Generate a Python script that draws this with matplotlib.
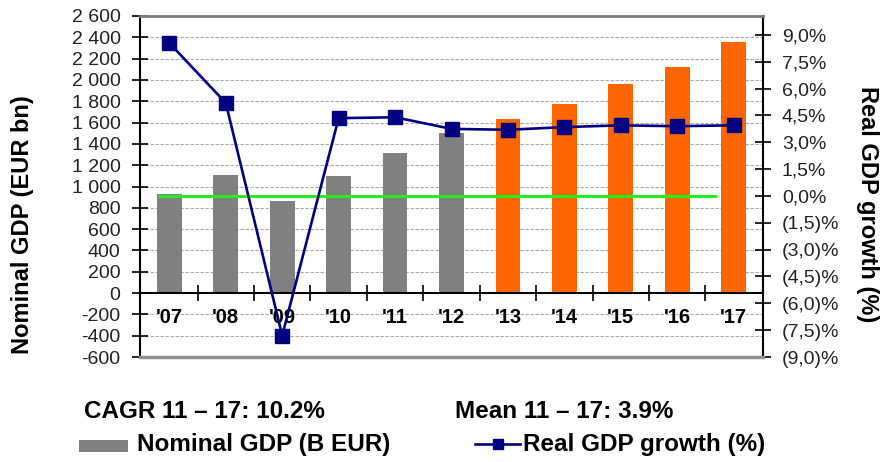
import matplotlib
matplotlib.use("Agg")
import matplotlib.pyplot as plt
from matplotlib.ticker import FuncFormatter, FixedLocator
from matplotlib.patches import Rectangle
from matplotlib.lines import Line2D

plt.rcParams['font.family'] = ['Liberation Sans', 'DejaVu Sans']

# ---- data ----
years = ["'07", "'08", "'09", "'10", "'11", "'12", "'13", "'14", "'15", "'16", "'17"]
nominal_gdp = [930, 1110, 860, 1100, 1315, 1505, 1630, 1770, 1965, 2125, 2360]
is_forecast = [False, False, False, False, False, False, True, True, True, True, True]
real_growth = [8.55, 5.2, -7.8, 4.35, 4.4, 3.75, 3.7, 3.85, 3.95, 3.9, 3.95]
left_ticks = list(range(-600, 2601, 200))
right_ticks = [-9.0, -7.5, -6.0, -4.5, -3.0, -1.5, 0.0, 1.5, 3.0, 4.5, 6.0, 7.5, 9.0]
cagr_text = "CAGR 11 \u2013 17: 10.2%"
mean_text = "Mean 11 \u2013 17: 3.9%"
legend_bar = "Nominal GDP (B EUR)"
legend_line = "Real GDP growth (%)"
ylabel_left = "Nominal GDP (EUR bn)"
ylabel_right = "Real GDP growth (%)"

GRAY = '#808080'
ORANGE = '#FF6600'
NAVY = '#000080'
GREEN = '#22EE22'

W, H = 880, 462
fig = plt.figure(figsize=(W / 100, H / 100), dpi=100)
ax1 = fig.add_axes([140 / W, 1 - 357 / H, (763 - 140) / W, (357 - 16) / H])
ax2 = ax1.twinx()

x = list(range(len(years)))
colors = [ORANGE if f else GRAY for f in is_forecast]
ax1.bar(x, nominal_gdp, width=0.44, color=colors, zorder=3)

ax1.set_xlim(-0.52, len(years) - 1 + 0.52)
ax1.set_ylim(-600, 2600)
ax1.yaxis.set_major_locator(FixedLocator(left_ticks))
ax1.yaxis.set_major_formatter(FuncFormatter(lambda v, p: f"{int(round(v)):,}".replace(",", " ")))

# gridlines
for v in left_ticks:
    if v not in (0, -600, 2600):
        ax1.axhline(v, color='#a8a8a8', lw=0.8, ls=(0, (3, 1.5)), zorder=1)

# x axis at zero
ax1.spines['bottom'].set_position(('data', 0))
ax1.spines['bottom'].set_color('black')
ax1.spines['bottom'].set_linewidth(1.5)
ax1.spines['bottom'].set_zorder(4)
ax1.spines['top'].set_visible(False)
ax1.spines['right'].set_visible(False)
ax1.spines['left'].set_color('black')
ax1.spines['left'].set_linewidth(1.5)

ax1.set_xticks(x)
ax1.set_xticklabels(years, fontsize=14.5, fontweight='bold')
ax1.set_xticks([i + 0.5 for i in x[:-1]], minor=True)
ax1.tick_params(axis='x', which='major', length=0, pad=11)
ax1.tick_params(axis='x', which='minor', direction='inout', length=11, width=1.2, color='black')
ax1.tick_params(axis='y', direction='inout', length=12, width=1.2, pad=8, labelsize=14,
                labelcolor='#222222')

# right axis
ax2.set_ylim(-9.0, 10.06)
ax2.yaxis.set_major_locator(FixedLocator(right_ticks))


def pct_fmt(v, p):
    if v < -1e-9:
        return f"({-v:.1f})%".replace('.', ',')
    return f"{abs(v):.1f}%".replace('.', ',')


ax2.yaxis.set_major_formatter(FuncFormatter(pct_fmt))
ax2.tick_params(axis='y', direction='inout', length=11, width=1.2, pad=8, labelsize=14,
                labelcolor='#222222')
ax2.spines['left'].set_visible(False)
ax2.spines['right'].set_color('black')
ax2.spines['right'].set_linewidth(1.5)
ax2.spines['top'].set_color('#7a7a7a')
ax2.spines['top'].set_linewidth(2)
ax2.spines['bottom'].set_color('#909090')
ax2.spines['bottom'].set_linewidth(2.5)

ax2.hlines(0, -0.2, 9.7, color=GREEN, lw=2.2, zorder=2)
ax2.plot(x, real_growth, color=NAVY, lw=1.9, marker='s', markersize=10,
         markerfacecolor=NAVY, markeredgecolor=NAVY, zorder=5, clip_on=False)

# axis labels
fig.text(23 / W, 1 - 225 / H, ylabel_left, rotation=90, ha='center', va='center',
         fontsize=17, fontweight='bold')
fig.text(867 / W, 1 - 204 / H, ylabel_right, rotation=-90, ha='center', va='center',
         fontsize=17, fontweight='bold')

# summary texts
fig.text(84 / W, 1 - 412 / H, cagr_text, ha='left', va='center', fontsize=17.5, fontweight='bold')
fig.text(455 / W, 1 - 412 / H, mean_text, ha='left', va='center', fontsize=17.5, fontweight='bold')

# legend (manual)
fig.patches.append(Rectangle((79 / W, 1 - 452 / H), 49 / W, 12 / H, transform=fig.transFigure,
                             facecolor=GRAY, edgecolor='none'))
fig.text(137 / W, 1 - 445 / H, legend_bar, ha='left', va='center', fontsize=17.5, fontweight='bold')
fig.lines.append(Line2D([475 / W, 520 / W], [1 - 444 / H, 1 - 444 / H], transform=fig.transFigure,
                        color=NAVY, lw=1.9))
fig.lines.append(Line2D([497.5 / W], [1 - 444 / H], transform=fig.transFigure, color=NAVY,
                        marker='s', markersize=7.5, markerfacecolor=NAVY, markeredgecolor=NAVY))
fig.text(523 / W, 1 - 445 / H, legend_line, ha='left', va='center', fontsize=17.5, fontweight='bold')

fig.savefig("out.png", dpi=100)
